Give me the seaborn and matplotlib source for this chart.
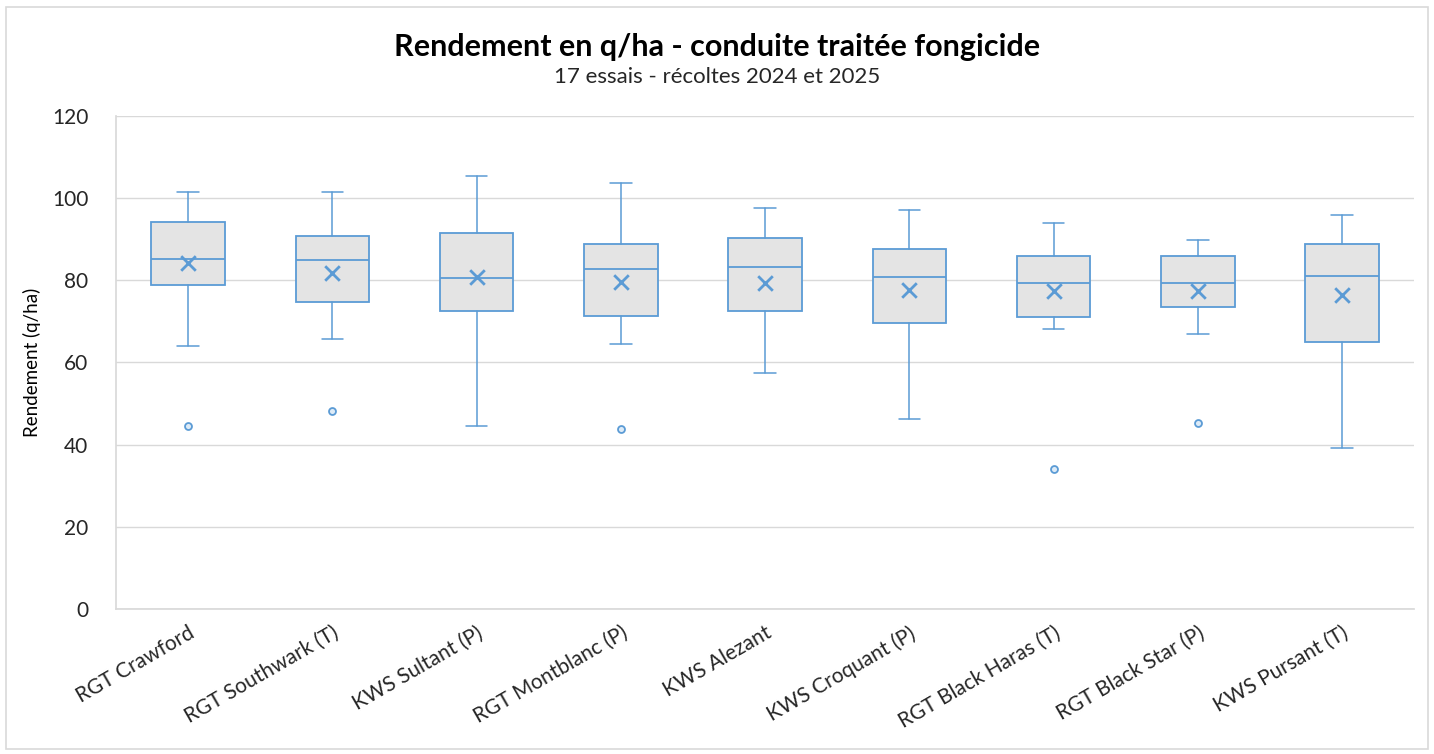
import numpy as np
import pandas as pd
import seaborn as sns
import matplotlib.pyplot as plt
from matplotlib.patches import Rectangle

# --- valeurs (q/ha) ---
varietes = ['RGT Crawford', 'RGT Southwark (T)', 'KWS Sultant (P)', 'RGT Montblanc (P)',
            'KWS Alezant', 'KWS Croquant (P)', 'RGT Black Haras (T)', 'RGT Black Star (P)',
            'KWS Pursant (T)']
v_min = [64.1, 65.6, 44.6, 64.4, 57.4, 46.3, 68.2, 66.9, 39.1]
v_q1 = [78.9, 74.7, 72.5, 71.3, 72.5, 69.7, 71.1, 73.6, 65.0]
v_med = [85.3, 85.0, 80.5, 82.7, 83.3, 80.8, 79.4, 79.4, 81.1]
v_q3 = [94.1, 90.8, 91.6, 88.9, 90.3, 87.5, 85.9, 85.9, 88.9]
v_max = [101.4, 101.4, 105.5, 103.6, 97.5, 97.0, 93.9, 89.7, 95.8]
v_mean = [84.3, 81.8, 80.7, 79.7, 79.4, 77.7, 77.5, 77.4, 76.4]
v_out = [[44.6], [48.2], [], [43.7], [], [], [34.0], [45.2], []]

bleu = '#5B9BD5'
gris = '#E4E4E4'

sns.set_theme(style='whitegrid')
plt.rcParams['font.family'] = ['Lato', 'DejaVu Sans']

fig = plt.figure(figsize=(14.34, 7.54), dpi=100)
ax = fig.add_axes([0.0809, 0.1923, 0.9053, 0.6539])
fig.patches.append(Rectangle((0.004, 0.006), 0.992, 0.985, transform=fig.transFigure,
                             fill=False, edgecolor='#D9D9D9', linewidth=1.2))

stats = []
for i, nom in enumerate(varietes):
    stats.append(dict(label=nom, whislo=v_min[i], q1=v_q1[i], med=v_med[i],
                      q3=v_q3[i], whishi=v_max[i], fliers=v_out[i]))

pos = np.arange(len(varietes))
ax.bxp(stats, positions=pos, widths=0.51, patch_artist=True, showmeans=False,
       boxprops=dict(facecolor=gris, edgecolor=bleu, linewidth=1.3),
       medianprops=dict(color=bleu, linewidth=1.3),
       whiskerprops=dict(color=bleu, linewidth=1.1),
       capprops=dict(color=bleu, linewidth=1.1),
       capwidths=0.15,
       flierprops=dict(marker='o', markersize=5, markerfacecolor='#DDEBF7',
                       markeredgecolor=bleu, markeredgewidth=1.3))

df_moy = pd.DataFrame({'pos': pos, 'moyenne': v_mean})
sns.scatterplot(data=df_moy, x='pos', y='moyenne', marker='x', s=110, color=bleu,
                linewidth=2, ax=ax, zorder=5, legend=False)

ax.set_xlim(-0.5, len(varietes) - 0.5)
ax.set_ylim(0, 120)
ax.set_yticks(range(0, 121, 20))
ax.set_xticks(pos)
ax.set_xticklabels(varietes, rotation=30, ha='right', rotation_mode='anchor',
                   fontsize=15, color='#262626')
ax.tick_params(axis='y', labelsize=15, labelcolor='#262626', pad=14)
ax.tick_params(axis='x', pad=4)
ax.set_xlabel('')
ax.set_ylabel('Rendement (q/ha)', fontsize=13.5, color='black', labelpad=8)

ax.grid(axis='y', color='#D9D9D9', linewidth=1)
ax.grid(axis='x', visible=False)
ax.set_facecolor('white')
for s in ['top', 'right']:
    ax.spines[s].set_visible(False)
ax.spines['left'].set_color('#D9D9D9')
ax.spines['bottom'].set_color('#D9D9D9')

fig.text(0.5, 0.938, 'Rendement en q/ha - conduite traitée fongicide', ha='center',
         va='center', fontsize=22, fontweight='bold', color='black')
fig.text(0.5, 0.898, '17 essais - récoltes 2024 et 2025', ha='center', va='center',
         fontsize=16, color='#262626')

fig.savefig('out.png', dpi=100, facecolor='white')
